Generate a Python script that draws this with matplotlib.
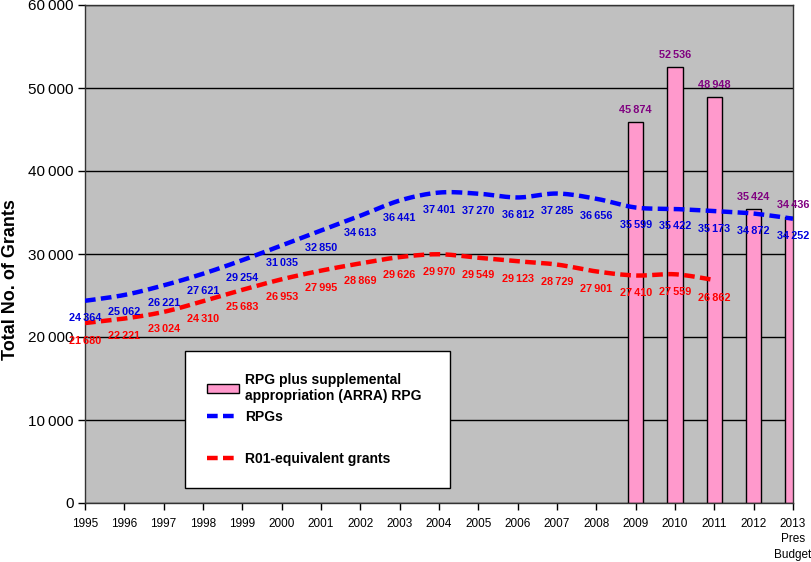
import numpy as np
import matplotlib
matplotlib.use("Agg")
import matplotlib.pyplot as plt
from matplotlib.patches import Patch
from matplotlib.lines import Line2D
from matplotlib import transforms

years = list(range(1995, 2014))
year_labels = [str(y) for y in range(1995, 2013)] + ["2013\nPres\nBudget"]

rpg = [24364, 25062, 26221, 27621, 29254, 31035, 32850, 34613, 36441, 37401,
       37270, 36812, 37285, 36656, 35599, 35422, 35173, 34872, 34252]
r01_years = list(range(1995, 2012))
r01 = [21680, 22221, 23024, 24310, 25683, 26953, 27995, 28869, 29626, 29970,
       29549, 29123, 28729, 27901, 27410, 27559, 26862]
bar_years = [2009, 2010, 2011, 2012, 2013]
bar_vals = [45874, 52536, 48948, 35424, 34436]

plt.rcParams["font.family"] = ["Liberation Sans", "DejaVu Sans"]


def fmt(v):
  s = "{:,}".format(v)
  return s.replace(",", "\u2009")


def smooth(x, y, n=24):
  # Catmull-Rom through the points (like Excel's "smoothed line")
  x = np.asarray(x, float)
  y = np.asarray(y, float)
  px = np.concatenate([[x[0]], x, [x[-1]]])
  py = np.concatenate([[y[0]], y, [y[-1]]])
  xs, ys = [], []
  t = np.linspace(0, 1, n)
  for i in range(1, len(px) - 2):
    p0, p1, p2, p3 = (np.array([px[j], py[j]]) for j in (i - 1, i, i + 1, i + 2))
    c1 = p1 + (p2 - p0) / 6
    c2 = p2 - (p3 - p1) / 6
    pts = ((1 - t) ** 3)[:, None] * p1 + (3 * (1 - t) ** 2 * t)[:, None] * c1 \
        + (3 * (1 - t) * t ** 2)[:, None] * c2 + (t ** 3)[:, None] * p2
    xs.extend(pts[:, 0])
    ys.extend(pts[:, 1])
  return xs, ys


fig = plt.figure(figsize=(8.12, 5.62), dpi=100)
ax = fig.add_axes([85 / 812, 1 - 503 / 562, 708 / 812, 498 / 562])
ax.set_facecolor("#C0C0C0")

ax.set_xlim(1995, 2013)
ax.set_ylim(0, 60000)
ax.set_yticks(range(0, 60001, 10000))
ax.set_yticklabels([fmt(v) for v in range(0, 60001, 10000)], fontsize=11)
ax.set_xticks(years)
ax.set_xticklabels(year_labels, fontsize=8.5, linespacing=1.35)
ax.tick_params(axis="both", direction="out", length=5, width=1, color="black")
ax.tick_params(axis="x", pad=6)
ax.tick_params(axis="y", pad=3)
ax.grid(True, axis="y", color="black", linewidth=1)
ax.set_axisbelow(True)
for s in ax.spines.values():
  s.set_color("#333333")
  s.set_linewidth(1)

ax.bar(bar_years, bar_vals, width=0.39, color="#FF99CC", edgecolor="black",
       linewidth=1, zorder=2)

bx, by = smooth(years, rpg)
ax.plot(bx, by, color="#0000FF", lw=3.2, dashes=(2.4, 1.2), dash_capstyle="butt", zorder=3)
rx, ry = smooth(r01_years, r01)
ax.plot(rx, ry, color="#FF0000", lw=3.2, dashes=(2.4, 1.2), dash_capstyle="butt", zorder=3)

below = transforms.offset_copy(ax.transData, fig=fig, x=0, y=-12.6, units="points")
above = transforms.offset_copy(ax.transData, fig=fig, x=0, y=8.5, units="points")

for x, v in zip(years, rpg):
  ax.text(x, v, fmt(v), transform=below, ha="center", va="center", fontsize=7.8,
          fontweight="bold", color="#0000DD", zorder=4, clip_on=False)
for x, v in zip(r01_years, r01):
  ax.text(x, v, fmt(v), transform=below, ha="center", va="center", fontsize=7.8,
          fontweight="bold", color="#FF0000", zorder=4, clip_on=False)
for x, v in zip(bar_years, bar_vals):
  ax.text(x, v, fmt(v), transform=above, ha="center", va="center", fontsize=7.8,
          fontweight="bold", color="#800080", zorder=4, clip_on=False)

ax.set_ylabel("Total No. of Grants", fontsize=13, fontweight="bold")
ax.yaxis.set_label_coords(-0.093, 0.448)

handles = [Patch(facecolor="#FF99CC", edgecolor="black", linewidth=1),
           Line2D([], [], color="#0000FF", lw=3.2, dashes=(2.4, 1.2)),
           Line2D([], [], color="none"),
           Line2D([], [], color="#FF0000", lw=3.2, dashes=(2.4, 1.2))]
labels = ["RPG plus supplemental\nappropriation (ARRA) RPG", "RPGs", " ", "R01-equivalent grants"]
leg = ax.legend(handles, labels, loc="lower left", mode="expand",
                bbox_to_anchor=(100 / 708, 15 / 498, 265 / 708, 0.2),
                prop={"weight": "bold", "size": 10}, frameon=True, fancybox=False,
                edgecolor="black", framealpha=1, handlelength=2.3, handletextpad=0.4,
                borderpad=1.6, labelspacing=0.5, borderaxespad=0)
leg.get_frame().set_linewidth(1)
leg.set_zorder(5)

plt.savefig("out.png", dpi=100)
